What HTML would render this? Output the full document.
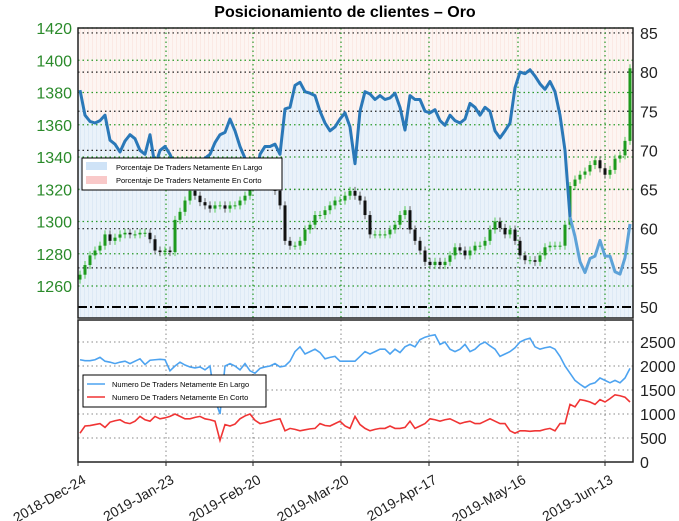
<!DOCTYPE html>
<html><head><meta charset="utf-8"><style>
body{margin:0;background:#fff;font-family:"Liberation Sans",sans-serif}
svg{display:block}
</style></head><body>
<svg id="c" width="679" height="521" viewBox="0 0 679 521" xmlns="http://www.w3.org/2000/svg">
<defs>
<pattern id="stripeB" width="4" height="10" patternUnits="userSpaceOnUse"><rect width="4" height="10" fill="#eaf2fa"/><rect width="1" height="10" fill="#dde9f5"/></pattern>
<pattern id="stripeR" width="4" height="10" patternUnits="userSpaceOnUse"><rect width="4" height="10" fill="#fdf5f2"/><rect width="1" height="10" fill="#fbe9e4"/></pattern>
</defs>
<text x="345" y="17" text-anchor="middle" font-size="16" font-weight="bold">Posicionamiento de clientes – Oro</text>
<g id="top"></g><g id="bot"></g>
</svg>
<script>
const dateLabels=["2018-Dec-24","2019-Jan-23","2019-Feb-20","2019-Mar-20","2019-Apr-17","2019-May-16","2019-Jun-13"];
const dateIdx=[-0.4,17.2,34.6,52.2,69.8,87.6,105];
const pctTicks=[85,80,75,70,65,60,55,50];
const priceTicks=[1420,1400,1380,1360,1340,1320,1300,1280,1260];
const countTicks=[2500,2000,1500,1000,500,0];
const pctLong=[77.7,74.5,73.7,73.5,73.8,74.5,71.3,70.8,69.8,71.2,72,71.5,70,69.5,72,68,70,70.5,69.5,68,67,66.5,67,68,68.5,69,69.5,71,72,72.3,74,72.5,70.5,69,67,65.5,69.5,70.5,70.5,70.8,69.5,75.3,75.5,78.3,78.7,77.5,77.3,77,75,73.5,72.5,73,74,74.8,73,68.3,75,77.5,77.2,76.5,77,76.5,76.7,77.3,75.5,72.6,77,76.5,76.5,75,74.8,75.2,73.8,73.2,74.5,73.8,73.5,74,76,75.5,74.5,75.5,75,72.5,71.6,72.5,73.5,78,80,79.8,80.3,79.5,78.5,77.8,78.8,77.5,74.5,70,61.5,59,55.8,54.4,56.2,56.5,58.5,56.5,56.5,54.5,54.2,56.3,60.6];
const closes=[1267,1273,1279,1282,1285,1292,1288,1290,1292,1293,1292,1292,1293,1293,1289,1282,1281,1282,1281,1301,1306,1313,1319,1316,1312,1310,1308,1310,1310,1308,1310,1310,1313,1316,1322,1326,1327,1329,1329,1319,1310,1288,1285,1285,1288,1295,1298,1304,1304,1307,1310,1313,1313,1316,1319,1316,1313,1304,1292,1292,1292,1292,1295,1298,1304,1307,1295,1288,1282,1275,1273,1275,1273,1275,1279,1284,1282,1279,1282,1285,1285,1288,1295,1300,1296,1292,1295,1288,1279,1276,1276,1275,1279,1284,1285,1285,1285,1298,1322,1326,1329,1331,1335,1338,1333,1329,1332,1339,1341,1350,1395];
const longCount=[2130,2110,2110,2130,2180,2100,2080,2050,2080,2100,2050,2100,2150,2030,2120,2130,2140,2130,1900,2000,2080,2020,1980,1960,1980,1920,2000,1300,1000,2000,2050,2000,1920,2050,1900,1850,1950,1980,2000,2050,1980,2000,2100,2300,2400,2250,2300,2350,2280,2150,2180,2200,2100,2100,2100,2100,2200,2300,2250,2300,2350,2350,2250,2350,2280,2400,2450,2400,2550,2600,2630,2650,2450,2500,2350,2300,2350,2450,2300,2350,2450,2500,2420,2350,2200,2250,2300,2380,2500,2550,2580,2400,2350,2380,2400,2350,2200,2000,1850,1700,1620,1550,1620,1650,1750,1700,1650,1700,1650,1750,1950];
const shortCount=[600,750,760,780,800,720,830,860,880,820,800,850,950,880,850,950,900,920,950,1000,950,900,900,930,950,900,880,850,450,780,750,790,900,960,1000,870,800,820,850,880,900,650,700,680,650,670,690,700,800,760,750,800,850,750,700,950,780,700,650,680,700,700,750,700,700,720,850,700,750,800,900,880,850,880,900,850,800,830,850,800,800,850,900,850,800,800,650,600,650,650,640,650,650,680,700,650,800,800,1200,1150,1300,1280,1250,1200,1300,1250,1320,1400,1380,1350,1250];

const NS="http://www.w3.org/2000/svg";
const X0=78,X1=633,N=pctLong.length;
const xs=i=>80+i*(550/(N-1));
const yP=v=>307-(v-50)*7.83;
const yL=v=>28+(1420-v)*1.6125;
const yB=v=>462-v*0.048;
const T=document.getElementById('top'),B=document.getElementById('bot');
function mk(p,tag,at){const e=document.createElementNS(NS,tag);for(const k in at)e.setAttribute(k,at[k]);p.appendChild(e);return e;}

let r=mk(T,'rect',{x:X0,y:28,width:X1-X0,height:290,fill:'url(#stripeR)'});

let pts=pctLong.map((v,i)=>xs(i)+','+yP(v));
let poly=mk(T,'polygon',{points:X0+','+yP(pctLong[0])+' '+pts.join(' ')+' '+X1+','+yP(pctLong[N-1])+' '+X1+',318 '+X0+',318',fill:'url(#stripeB)'});

pctTicks.forEach(t=>{if(t>50){let l=mk(T,'line',{x1:X0,x2:X1,y1:yP(t),y2:yP(t),stroke:'#222','stroke-dasharray':'1.5,3','stroke-width':1.2});}});
priceTicks.forEach(t=>{let l=mk(T,'line',{x1:X0,x2:X1,y1:yL(t),y2:yL(t),stroke:'#2a9a2a','stroke-dasharray':'1.5,3','stroke-width':1.2});});
dateIdx.forEach(d=>{let x=xs(d);if(x>X0+2){let l=mk(T,'line',{x1:x,x2:x,y1:28,y2:318,stroke:'#2a9a2a','stroke-dasharray':'1.5,3','stroke-width':1.2});
let m=mk(B,'line',{x1:x,x2:x,y1:320,y2:462,stroke:'#888','stroke-dasharray':'1.5,3'});}});
let dl=mk(T,'line',{x1:X0,x2:X1,y1:yP(50),y2:yP(50),stroke:'#000','stroke-width':2,'stroke-dasharray':'9,3,2,3'});

closes.forEach((c,i)=>{const o=i?closes[i-1]:c-3;const up=c>=o;const col=up?'#1e9a1e':'#111';const x=xs(i);
const hi=Math.max(o,c)+2.5,lo=Math.min(o,c)-2.5;
let w=mk(T,'line',{x1:x,x2:x,y1:yL(hi),y2:yL(lo),stroke:up?'#5c5':'#666','stroke-width':1});

let b=mk(T,'rect',{x:x-1.5,y:yL(Math.max(o,c)),width:3,height:Math.max(1,Math.abs(yL(o)-yL(c))),fill:col});
});
let split=pctLong.findIndex(v=>v<63);
let l1=mk(T,'polyline',{points:pts.slice(0,split+1).join(' '),fill:'none',stroke:'#2a78b8','stroke-width':3,'stroke-linejoin':'round'});

let l2=mk(T,'polyline',{points:pts.slice(split).join(' '),fill:'none',stroke:'#5da2d8','stroke-width':3,'stroke-linejoin':'round'});

let f1=mk(T,'rect',{x:X0,y:28,width:X1-X0,height:290,fill:'none',stroke:'#222','stroke-width':1.5});

priceTicks.forEach(t=>{let e=mk(T,'text',{x:72,y:yL(t)+6,'text-anchor':'end','font-size':16,fill:'#2a8a2a'});e.textContent=t;});
pctTicks.forEach(t=>{let e=mk(T,'text',{x:640,y:yP(t)+6,'font-size':16,fill:'#222'});e.textContent=t;});
let lg=mk(T,'g',{});
mk(lg,'rect',{x:82,y:158,width:200,height:32,fill:'#fff',stroke:'#000','stroke-width':1});
mk(lg,'rect',{x:86,y:162,width:21,height:8,fill:'#cfe3f7'});
mk(lg,'rect',{x:86,y:176,width:21,height:8,fill:'#f9c9c9'});
let t1=mk(lg,'text',{x:116,y:170,'font-size':7.5});t1.textContent='Porcentaje De Traders Netamente En Largo';
let t2=mk(lg,'text',{x:116,y:183,'font-size':7.5});t2.textContent='Porcentaje De Traders Netamente En Corto';
countTicks.forEach(t=>{if(t>0){let l=mk(B,'line',{x1:X0,x2:X1,y1:yB(t),y2:yB(t),stroke:'#888','stroke-dasharray':'1.5,3'});}
let e=mk(B,'text',{x:640,y:yB(t)+6,'font-size':16,fill:'#222'});e.textContent=t;});
let lb=mk(B,'polyline',{points:longCount.map((v,i)=>xs(i)+','+yB(v)).join(' '),fill:'none',stroke:'#4da3f0','stroke-width':1.6});

let lr=mk(B,'polyline',{points:shortCount.map((v,i)=>xs(i)+','+yB(v)).join(' '),fill:'none',stroke:'#f03434','stroke-width':1.6});

let f2=mk(B,'rect',{x:X0,y:320,width:X1-X0,height:142,fill:'none',stroke:'#222','stroke-width':1.5});

let bl=mk(B,'g',{});
mk(bl,'rect',{x:83,y:375,width:183,height:32,fill:'#fff',stroke:'#000','stroke-width':1});
mk(bl,'line',{x1:87,x2:105,y1:384,y2:384,stroke:'#4da3f0','stroke-width':1.6});
mk(bl,'line',{x1:87,x2:105,y1:397,y2:397,stroke:'#f03434','stroke-width':1.6});
let t3=mk(bl,'text',{x:112,y:387,'font-size':7.5});t3.textContent='Numero De Traders Netamente En Largo';
let t4=mk(bl,'text',{x:112,y:400,'font-size':7.5});t4.textContent='Numero De Traders Netamente En Corto';
dateIdx.forEach((d,k)=>{let x=Math.max(X0,xs(d));
let tk=mk(B,'line',{x1:x,x2:x,y1:462,y2:466,stroke:'#222'});
let e=mk(B,'text',{transform:`translate(${x+4},${474}) rotate(-30)`,'text-anchor':'end','font-size':14,fill:'#222',dy:'0.7em'});
e.textContent=dateLabels[k];});
</script>
</body></html>
